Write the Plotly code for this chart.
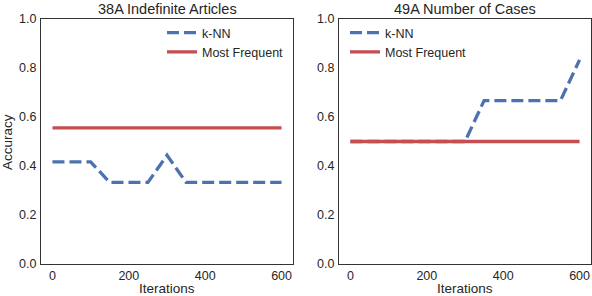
import plotly.graph_objects as go

iterations = [0, 50, 100, 150, 200, 250, 300, 350, 400, 450, 500, 550, 600]
knn_38a = [0.417, 0.417, 0.417, 0.333, 0.333, 0.333, 0.444, 0.333, 0.333, 0.333, 0.333, 0.333, 0.333]
mf_38a = [0.556] * 13
knn_49a = [0.5, 0.5, 0.5, 0.5, 0.5, 0.5, 0.5, 0.667, 0.667, 0.667, 0.667, 0.667, 0.833]
mf_49a = [0.5] * 13
titles = ["38A Indefinite Articles", "49A Number of Cases"]
x_title = "Iterations"
y_title = "Accuracy"
yticks = [0.0, 0.2, 0.4, 0.6, 0.8, 1.0]
xticks = [0, 200, 400, 600]

BLUE = "#4C72B0"
RED = "#C44E52"
FONT = "Liberation Sans, Arial, sans-serif"
TXT = "#262626"

W, H = 592, 296
ML, MR, MT, MB = 41, 1, 19, 32
PW = W - ML - MR
PH = H - MT - MB

def xd(px):
    return (px - ML) / PW

def yd(py):
    return (H - MB - py) / PH

fig = go.Figure()
fig.update_layout(
    xaxis=dict(domain=[xd(41), xd(293)], anchor="y"),
    yaxis=dict(domain=[0, 1], anchor="x"),
    xaxis2=dict(domain=[xd(339), xd(591)], anchor="y2"),
    yaxis2=dict(domain=[0, 1], anchor="x2"),
)

for i, (knn, mf, leg) in enumerate([(knn_38a, mf_38a, "legend"), (knn_49a, mf_49a, "legend2")]):
    xa = "x" if i == 0 else "x2"
    ya = "y" if i == 0 else "y2"
    fig.add_trace(go.Scatter(x=iterations, y=knn, mode="lines", name="k-NN",
                             line=dict(color=BLUE, width=3.3, dash="12px,5px"),
                             xaxis=xa, yaxis=ya, legend=leg))
    fig.add_trace(go.Scatter(x=iterations, y=mf, mode="lines", name="Most Frequent",
                             line=dict(color=RED, width=3.3),
                             xaxis=xa, yaxis=ya, legend=leg))

axis_common = dict(showgrid=False, zeroline=False, showline=True, mirror=True,
                   linecolor="#333333", linewidth=1.3, ticks="", automargin=False,
                   tickfont=dict(family=FONT, size=12.5, color=TXT))
for ax in ["xaxis", "xaxis2"]:
    fig.layout[ax].update(range=[-30, 630], tickvals=xticks, ticklabelstandoff=0, **axis_common)
for ax in ["yaxis", "yaxis2"]:
    fig.layout[ax].update(range=[0, 1], tickvals=yticks, tickformat=".1f", ticklabelstandoff=1,
                          **axis_common)

annotations = []
for t, cx in zip(titles, [(41 + 293) / 2, (339 + 591) / 2]):
    annotations.append(dict(text=t, x=xd(cx), y=yd(9), xref="paper", yref="paper",
                            showarrow=False, xanchor="center", yanchor="middle",
                            font=dict(family=FONT, size=14.5, color=TXT)))
    annotations.append(dict(text=x_title, x=xd(cx), y=yd(288), xref="paper", yref="paper",
                            showarrow=False, xanchor="center", yanchor="middle",
                            font=dict(family=FONT, size=13.5, color=TXT)))
annotations.append(dict(text=y_title, x=xd(7), y=yd(142), xref="paper", yref="paper",
                        showarrow=False, xanchor="center", yanchor="middle", textangle=-90,
                        font=dict(family=FONT, size=13.5, color=TXT)))

fig.update_layout(
    width=W, height=H,
    margin=dict(l=ML, r=MR, t=MT, b=MB, pad=0, autoexpand=False),
    plot_bgcolor="white", paper_bgcolor="white",
    annotations=annotations,
    legend=dict(x=xd(289), y=yd(18), xanchor="right", yanchor="top",
                bgcolor="rgba(0,0,0,0)", font=dict(family=FONT, size=12.5, color=TXT),
                itemwidth=30, tracegroupgap=0),
    legend2=dict(x=xd(345), y=yd(18), xanchor="left", yanchor="top",
                 bgcolor="rgba(0,0,0,0)", font=dict(family=FONT, size=12.5, color=TXT),
                 itemwidth=30, tracegroupgap=0),
)

fig.write_html("out.html", config={"displayModeBar": False},
               post_script="document.body.style.margin='0';document.body.style.padding='0';")
